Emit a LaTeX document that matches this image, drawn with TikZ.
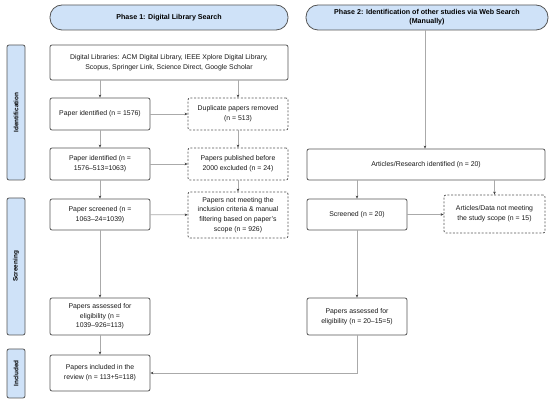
\documentclass[tikz,border=0pt]{standalone}
\usepackage{fontspec}
\setmainfont{Liberation Sans}
\usetikzlibrary{arrows.meta}
\definecolor{hdrblue}{HTML}{CFE2F8}
\definecolor{bordergray}{HTML}{555555}
\definecolor{linegray}{HTML}{AAAAAA}
\begin{document}
\begin{tikzpicture}[x=1pt,y=-1pt,
  txt/.style={font=\fontsize{6.9}{9.6}\selectfont, align=center, text=black!90},
  box/.style={txt, draw=bordergray, line width=0.8pt, rounded corners=2pt, inner sep=1pt},
  dbox/.style={box, dash pattern=on 2pt off 1.6pt},
  hdr/.style={draw=bordergray, line width=0.8pt, fill=hdrblue, rounded corners=12pt,
     font=\bfseries\fontsize{7.1}{9}\selectfont, align=center, inner sep=1pt},
  side/.style={draw=bordergray, line width=0.8pt, fill=hdrblue, rounded corners=2pt, inner sep=0pt},
  sidetxt/.style={rotate=90, font=\bfseries\fontsize{6.4}{7}\selectfont},
  conn/.style={draw=linegray, line width=0.7pt, -{Stealth[length=3pt,width=2.6pt,color=black!75]}}
]
\useasboundingbox (0,0) rectangle (550,403);
% headers
\node[hdr, minimum width=238, minimum height=25] (ph1) at (169,17.5) {Phase 1: Digital Library Search};
\node[hdr, minimum width=242, minimum height=25] (ph2) at (427,17.5) {Phase 2: Identification of other studies via Web Search\\(Manually)};
% side labels
\node[side, minimum width=18, minimum height=135] (sid) at (16,112.5) {};
\node[sidetxt] (sidt) at (sid.center) {Identification};
\node[side, minimum width=18, minimum height=137] (ssc) at (16,266.5) {};
\node[sidetxt] (ssct) at (ssc.center) {Screening};
\node[side, minimum width=18, minimum height=49] (sin) at (16,373.5) {};
\node[sidetxt] (sint) at (sin.center) {Included};
% left column
\node[box, minimum width=238, minimum height=35] (dl) at (169,62.5) {Digital Libraries: ACM Digital Library, IEEE Xplore Digital Library,\\Scopus, Springer Link, Science Direct, Google Scholar};
\node[box, minimum width=100, minimum height=32] (pi1) at (100,114) {Paper identified (n = 1576)};
\node[dbox, minimum width=100, minimum height=32] (dup) at (238,114) {Duplicate papers removed\\(n = 513)};
\node[box, minimum width=100, minimum height=32] (pi2) at (100,164) {Paper identified (n =\\1576{\textendash}513=1063)};
\node[dbox, minimum width=100, minimum height=32] (pub) at (238,164) {Papers published before\\2000 excluded (n = 24)};
\node[box, minimum width=100, minimum height=31] (psc) at (100,214.5) {Paper screened (n =\\1063{\textendash}24=1039)};
\node[dbox, minimum width=100, minimum height=46] (pnm) at (238,215) {Papers not meeting the\\inclusion criteria \& manual\\filtering based on paper's\\scope (n = 926)};
\node[box, minimum width=100, minimum height=37] (pa1) at (100,316.5) {Papers assessed for\\eligibility (n =\\1039{\textendash}926=113)};
\node[box, minimum width=100, minimum height=36] (pinc) at (100,373) {Papers included in the\\review (n = 113+5=118)};
% right column
\node[box, minimum width=238, minimum height=31] (ari) at (426,164.5) {Articles/Research identified (n = 20)};
\node[box, minimum width=100, minimum height=31] (scrn) at (357,214.5) {Screened (n = 20)};
\node[dbox, minimum width=101, minimum height=38] (adn) at (494.5,214) {Articles/Data not meeting\\the study scope (n = 15)};
\node[box, minimum width=100, minimum height=37] (pa2) at (357,316.5) {Papers assessed for\\eligibility (n = 20{\textendash}15=5)};
% connectors
\draw[conn] (dl.south -| pi1) -- (pi1);
\draw[conn] (dl.south -| dup) -- (dup);
\draw[conn] (pi1) -- (dup);
\draw[conn] (pi1) -- (pi2);
\draw[conn] (dup) -- (pub);
\draw[conn] (pi2) -- (pub);
\draw[conn] (pi2) -- (psc);
\draw[conn] (pub) -- (pnm);
\draw[conn] (psc) -- (pnm);
\draw[conn] (psc) -- (pa1);
\draw[conn] (pa1) -- (pinc);
\coordinate (p2x) at (425,0);
\draw[conn] (ph2.south -| p2x) -- (ari.north -| p2x);
\draw[conn] (ari.south -| scrn) -- (scrn);
\draw[conn] (ari.south -| adn) -- (adn);
\draw[conn] (scrn) -- (scrn -| adn.west);
\draw[conn] (scrn) -- (pa2);
\draw[conn] (pa2.south) |- (pinc.east);
\end{tikzpicture}
\end{document}
